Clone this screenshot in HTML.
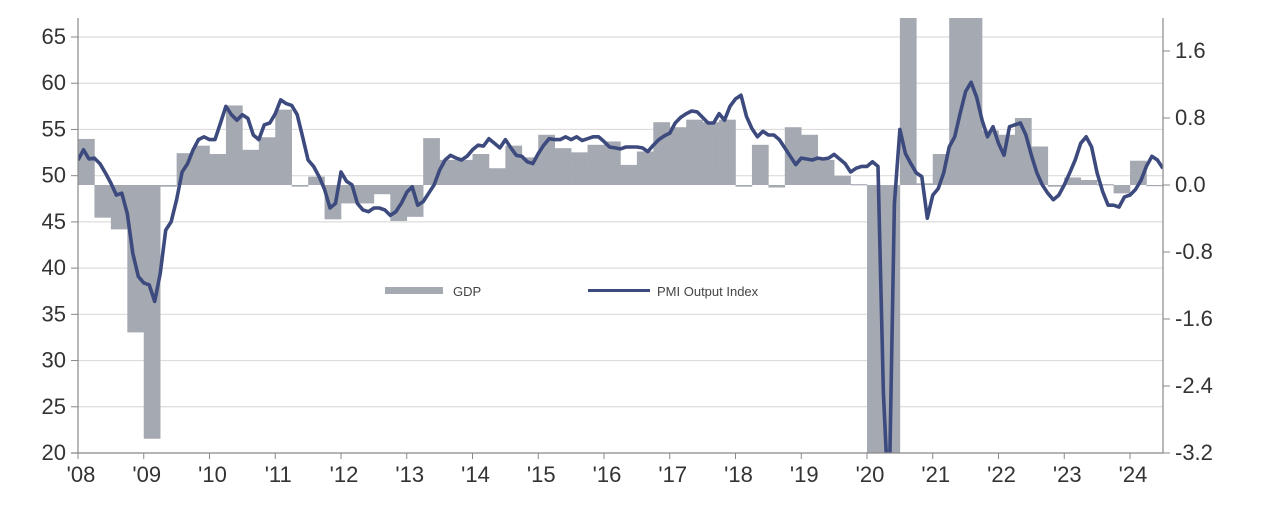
<!DOCTYPE html>
<html><head><meta charset="utf-8"><style>
html,body{margin:0;padding:0;background:#fff;width:1272px;height:505px;overflow:hidden;}
svg{display:block;font-family:"Liberation Sans",Arial,sans-serif;overflow:hidden;}
</style></head><body>
<svg id="chart" width="1272" height="505" viewBox="0 0 1272 505">
<defs><clipPath id="plot"><rect x="78" y="18" width="1085" height="435"/></clipPath></defs>
<g id="grid"></g>
<g id="bars" clip-path="url(#plot)"></g>
<g id="line" clip-path="url(#plot)"></g>
<g id="axes"></g>
<g>
<rect x="385" y="287" width="58" height="7" fill="#a5aab2"/>
<text x="453" y="296" font-size="13" fill="#444">GDP</text>
<line x1="588" y1="290.5" x2="650" y2="290.5" stroke="#3d4a7e" stroke-width="3"/>
<text x="657" y="296" font-size="13" fill="#444">PMI Output Index</text>
</g>
</svg>
<script>
const yearLabels=["'08","'09","'10","'11","'12","'13","'14","'15","'16","'17","'18","'19","'20","'21","'22","'23","'24"];
const leftTicks=[20,25,30,35,40,45,50,55,60,65];
const rightTicks=["-3.2","-2.4","-1.6","-0.8","0.0","0.8","1.6"];
const gdpQuarterly=[0.55,-0.39,-0.53,-1.76,-3.03,-0.02,0.38,0.47,0.37,0.95,0.42,0.57,0.9,-0.02,0.1,-0.41,-0.22,-0.22,-0.11,-0.43,-0.38,0.56,0.3,0.3,0.37,0.2,0.47,0.33,0.6,0.44,0.39,0.48,0.52,0.24,0.4,0.75,0.69,0.78,0.75,0.78,-0.02,0.48,-0.03,0.69,0.6,0.3,0.11,0.01,-3.3,-20,20,0.02,0.37,5,5,0.65,0.6,0.8,0.46,-0.02,0.09,0.06,0.01,-0.1,0.29,0.0];
const pmiMonthly=[51.7,52.8,51.8,51.9,51.3,50.3,49.2,47.9,48.1,45.9,41.6,39.1,
38.4,38.2,36.4,39.4,44.1,45.0,47.4,50.4,51.3,52.8,53.9,54.2,
53.9,53.9,55.7,57.5,56.6,56.0,56.6,56.2,54.4,53.9,55.5,55.7,
56.7,58.2,57.8,57.6,56.6,54.2,51.7,51.0,49.9,48.5,46.5,47.0,
50.4,49.4,49.0,47.0,46.3,46.1,46.5,46.5,46.3,45.7,46.1,47.0,
48.2,48.8,46.8,47.2,48.1,49.0,50.6,51.7,52.2,51.9,51.7,52.1,
52.8,53.3,53.2,54.0,53.5,53.0,53.9,53.0,52.2,52.1,51.5,51.3,
52.4,53.3,54.0,53.9,53.9,54.2,53.9,54.2,53.8,54.0,54.2,54.2,
53.7,53.1,53.0,52.9,53.1,53.1,53.1,53.0,52.6,53.3,53.9,54.3,
54.6,55.7,56.3,56.7,57.0,56.9,56.3,55.7,55.7,56.7,56.0,57.5,
58.3,58.7,56.4,55.1,54.2,54.8,54.4,54.4,53.9,53.0,52.1,51.2,
51.9,51.8,51.7,51.9,51.8,51.9,52.3,51.8,51.3,50.4,50.8,51.0,
51.0,51.5,51.0,26.5,13.8,47.0,55.0,52.4,51.3,50.3,49.9,45.4,
47.9,48.6,50.3,53.1,54.2,56.7,59.1,60.1,58.5,56.0,54.2,55.3,
53.5,52.2,55.3,55.5,55.7,54.4,52.2,50.3,49.0,48.1,47.4,47.9,
49.0,50.3,51.7,53.5,54.2,53.1,50.3,48.3,46.8,46.8,46.6,47.7,
47.9,48.5,49.5,51.0,52.1,51.7,50.8];

const NS='http://www.w3.org/2000/svg';
const X0=78,X1=1163,YT=18,YB=453,perYear=65.75;
const xMonth=m=>X0+m*perYear/12;
const yLeft=v=>YB-(v-20)*(YB-37)/45;
const yRight=v=>185-v*(67/0.8);
function mk(tag,attrs,parent){const e=document.createElementNS(NS,tag);for(const k in attrs)e.setAttribute(k,attrs[k]);parent.appendChild(e);return e;}
const grid=document.getElementById('grid'),axes=document.getElementById('axes'),bars=document.getElementById('bars'),lineG=document.getElementById('line');

leftTicks.forEach(v=>{
  const y=yLeft(v);
  if(v>20){const g=mk('line',{x1:X0,x2:X1,y1:y,y2:y,stroke:'#dcdcdc','stroke-width':1.2},grid);
  
  }
  const t=mk('line',{x1:X0-7,x2:X0,y1:y,y2:y,stroke:'#888','stroke-width':1},axes);
  
  
  const l=mk('text',{x:X0-12,y:y+7,'text-anchor':'end','font-size':22,fill:'#333'},axes);
  l.textContent=v;
  
  
});
rightTicks.forEach(s=>{
  const y=yRight(parseFloat(s));
  const t=mk('line',{x1:X1,x2:X1+7,y1:y,y2:y,stroke:'#888','stroke-width':1},axes);
  
  
  const l=mk('text',{x:X1+12,y:y+7,'font-size':22,fill:'#333'},axes);
  l.textContent=s;
  
  
});
yearLabels.forEach((s,i)=>{
  const x=X0+i*perYear;
  const t=mk('line',{x1:x,x2:x,y1:YB,y2:YB+6,stroke:'#888','stroke-width':1},axes);
  
  
  const l=mk('text',{x:x+3,y:YB+29,'text-anchor':'middle','font-size':22,fill:'#333'},axes);
  l.textContent=s;
  
  
});
const la=mk('line',{x1:X0,x2:X0,y1:YT,y2:YB,stroke:'#888','stroke-width':1.2},axes);


const ra=mk('line',{x1:X1,x2:X1,y1:YT,y2:YB,stroke:'#888','stroke-width':1.2},axes);


const ba=mk('line',{x1:X0-7,x2:X1,y1:YB,y2:YB,stroke:'#888','stroke-width':1.2},axes);



gdpQuarterly.forEach((v,q)=>{
  const x=xMonth(q*3),w=perYear/4;
  const y0=yRight(0),y=yRight(v);
  const r=mk('rect',{x:x,y:Math.min(y0,y),width:w+0.3,height:Math.max(1.2,Math.abs(y-y0)),fill:'#a5aab2'},bars);
  
  
});
const pts=pmiMonthly.map((v,m)=>xMonth(m).toFixed(1)+','+yLeft(v).toFixed(1)).join(' ');
const pl=mk('polyline',{points:pts,fill:'none',stroke:'#3d4a7e','stroke-width':3.6,'stroke-linejoin':'round'},lineG);


</script>
</body></html>
